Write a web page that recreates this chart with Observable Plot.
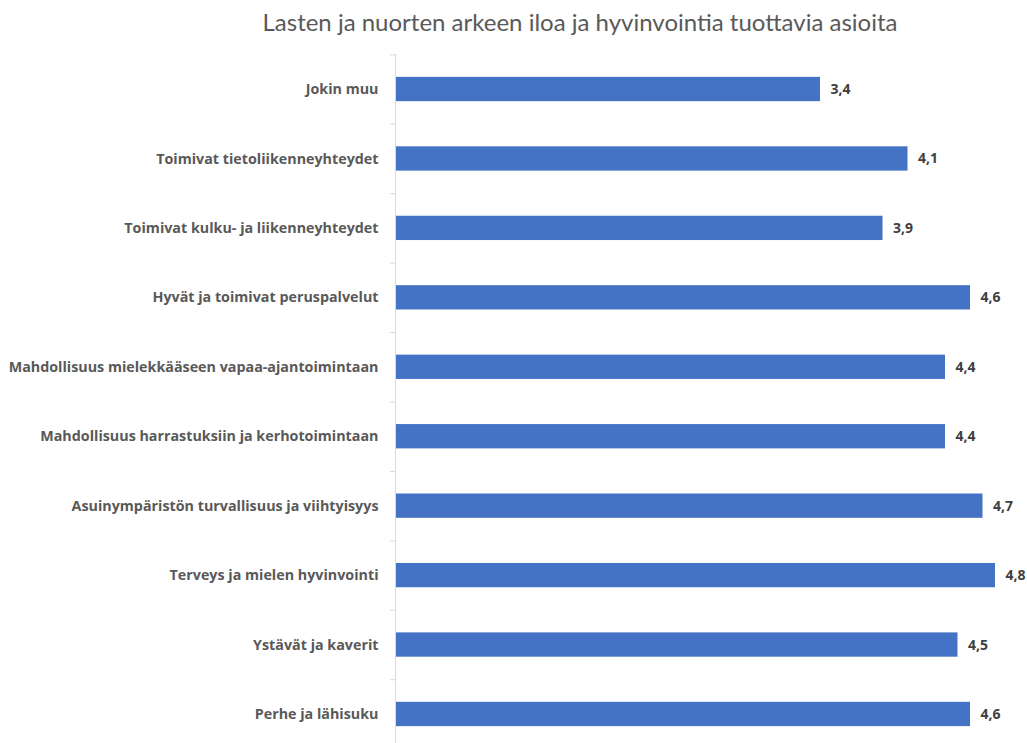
<!DOCTYPE html>
<html>
<head>
<meta charset="utf-8">
<script src="https://cdn.jsdelivr.net/npm/d3@7"></script>
<script src="https://cdn.jsdelivr.net/npm/@observablehq/plot@0.6"></script>
<style>
  body { margin: 0; background: #fff; }
  #title { height: 45px; line-height: 44px; text-align: center; font-family: Lato, "Open Sans", sans-serif; font-size: 24px; color: #595959; padding-left: 133px; box-sizing: border-box; width: 1027px; white-space: nowrap; }
</style>
</head>
<body>
<div id="title">Lasten ja nuorten arkeen iloa ja hyvinvointia tuottavia asioita</div>
<div id="chart"></div>
<script>
const categories = [
  "Jokin muu",
  "Toimivat tietoliikenneyhteydet",
  "Toimivat kulku- ja liikenneyhteydet",
  "Hyvät ja toimivat peruspalvelut",
  "Mahdollisuus mielekkääseen vapaa-ajantoimintaan",
  "Mahdollisuus harrastuksiin ja kerhotoimintaan",
  "Asuinympäristön turvallisuus ja viihtyisyys",
  "Terveys ja mielen hyvinvointi",
  "Ystävät ja kaverit",
  "Perhe ja lähisuku"
];
const values = [3.4, 4.1, 3.9, 4.6, 4.4, 4.4, 4.7, 4.8, 4.5, 4.6];

const data = categories.map((c, i) => ({category: c, value: values[i]}));
const fmt = v => d3.format(".1f")(v).replace(".", ",");

const chart = Plot.plot({
  width: 1027,
  height: 698,
  marginLeft: 395,
  marginRight: 7,
  marginTop: 9,
  marginBottom: 0,
  style: {fontFamily: "'Open Sans', Lato, sans-serif", background: "#fff"},
  x: {domain: [0, 5], axis: null},
  y: {domain: categories, range: [9.3, 703.7], paddingInner: 0.65, paddingOuter: 0.325, round: false, label: null},
  marks: [
    Plot.barX(data, {x: "value", y: "category", fill: "#4472C4"}),
    Plot.ruleX([0], {stroke: "#d9d9d9", strokeWidth: 1}),
    Plot.axisY({text: null, tickSize: 5, dy: -34.72, stroke: "#d9d9d9"}),
    Plot.axisY({tickSize: 0, tickPadding: 17, fontSize: 14.3, fontWeight: "bold", fill: "#595959", label: null}),
    Plot.text(data, {x: "value", y: "category", text: d => fmt(d.value), dx: 10, textAnchor: "start", fontSize: 14, fontWeight: "bold", fill: "#404040"})
  ]
});
document.getElementById("chart").appendChild(chart);
</script>
</body>
</html>
